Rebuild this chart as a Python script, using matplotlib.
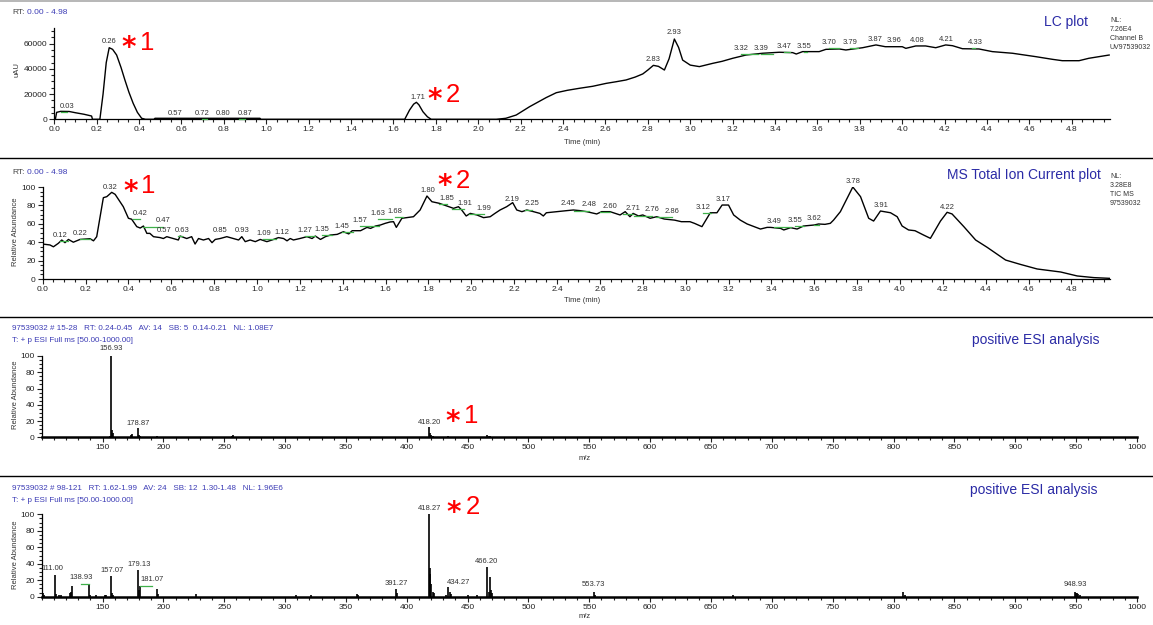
import matplotlib
matplotlib.use("Agg")
import matplotlib.pyplot as plt
from matplotlib.ticker import MultipleLocator, FormatStrFormatter
from matplotlib.lines import Line2D

plt.rcParams['font.family'] = ['Liberation Sans', 'DejaVu Sans']

# ---------------- LC (UV) chromatogram ----------------
lc_time = [0.00, 0.005, 0.011, 0.03, 0.07, 0.10, 0.14, 0.176, 0.18, 0.215, 0.23, 0.245, 0.259, 0.275,
           0.294, 0.315, 0.333, 0.352, 0.372, 0.392, 0.412, 0.43, 0.47, 0.475, 0.97, 0.975, 1.653, 1.676,
           1.695, 1.708, 1.72, 1.739, 1.76, 1.778, 2.085, 2.13, 2.179, 2.242, 2.32, 2.368, 2.42, 2.477,
           2.54, 2.603, 2.65, 2.697, 2.74, 2.776, 2.80, 2.826, 2.85, 2.878, 2.90, 2.925, 2.945, 2.964,
           3.00, 3.043, 3.106, 3.15, 3.20, 3.263, 3.341, 3.42, 3.483, 3.50, 3.53, 3.608, 3.64, 3.703,
           3.734, 3.813, 3.876, 3.92, 4.00, 4.017, 4.064, 4.11, 4.158, 4.205, 4.237, 4.284, 4.362,
           4.425, 4.52, 4.63, 4.708, 4.755, 4.834, 4.88, 4.976]
lc_signal = [0, 0, 5500, 6300, 6200, 5200, 4000, 2600, 0, 0, 20000, 45000, 56800, 55500,
             51000, 41000, 31200, 21500, 12700, 5500, 800, 0, 0, 800, 800, 0, 0, 7400,
             12000, 13500, 11500, 6000, 2000, 0, 0, 800, 3400, 10000, 17200, 21100, 23000, 24600,
             26200, 28500, 29800, 31200, 33500, 36000, 39100, 42800, 42000, 39100, 48000, 63700, 57000, 47000,
             43000, 41800, 44400, 46000, 48400, 51000, 52400, 53200, 52900, 51800, 53700, 53700, 55500, 55800,
             55000, 56800, 59000, 57600, 57600, 56300, 58200, 58200, 56800, 59000, 58400, 56000, 55800,
             53700, 52400, 49700, 47600, 46500, 46500, 48400, 51000]
lc_label_rt = ["0.03", "0.26", "0.57", "0.72", "0.80", "0.87", "1.71", "2.83", "2.93", "3.32", "3.39",
               "3.47", "3.55", "3.70", "3.79", "3.87", "3.96", "4.08", "4.21", "4.33"]
lc_label_time = [0.061, 0.259, 0.572, 0.697, 0.794, 0.899, 1.716, 2.823, 2.925, 3.239, 3.334,
                 3.443, 3.538, 3.656, 3.753, 3.872, 3.962, 4.072, 4.21, 4.344]
lc_label_height = [6000, 57100, 300, 300, 300, 300, 13200, 42900, 64300, 51600, 51600,
                   53200, 53700, 56300, 56300, 59000, 57900, 57900, 59000, 56300]
lc_label_green = [1, 0, 0, 1, 0, 1, 0, 0, 0, 1, 1, 1, 1, 1, 1, 0, 0, 0, 0, 1]

# ---------------- MS TIC chromatogram ----------------
tic_time = [0.00, 0.034, 0.05, 0.073, 0.089, 0.104, 0.12, 0.143, 0.174, 0.221, 0.237, 0.252, 0.283, 0.299,
            0.322, 0.338, 0.376, 0.40, 0.415, 0.439, 0.455, 0.47, 0.486, 0.50, 0.517, 0.548, 0.563, 0.579,
            0.61, 0.633, 0.641, 0.672, 0.695, 0.711, 0.727, 0.75, 0.774, 0.79, 0.805, 0.828, 0.859, 0.89,
            0.914, 0.929, 0.945, 0.968, 0.992, 1.015, 1.046, 1.07, 1.10, 1.124, 1.14, 1.155, 1.17, 1.20,
            1.233, 1.257, 1.272, 1.296, 1.319, 1.343, 1.374, 1.403, 1.428, 1.444, 1.483, 1.513, 1.53,
            1.553, 1.576, 1.598, 1.621, 1.637, 1.65, 1.676, 1.73, 1.761, 1.793, 1.816, 1.85, 1.886, 1.917,
            1.94, 1.955, 1.976, 1.995, 2.026, 2.057, 2.088, 2.11, 2.134, 2.165, 2.193, 2.212, 2.236, 2.259,
            2.29, 2.32, 2.336, 2.35, 2.398, 2.445, 2.476, 2.507, 2.538, 2.585, 2.608, 2.647, 2.694, 2.718,
            2.74, 2.755, 2.78, 2.80, 2.834, 2.865, 2.90, 2.948, 2.98, 3.02, 3.041, 3.076, 3.115, 3.146,
            3.17, 3.20, 3.224, 3.255, 3.287, 3.349, 3.38, 3.396, 3.443, 3.458, 3.49, 3.52, 3.55, 3.60,
            3.62, 3.65, 3.675, 3.69, 3.722, 3.78, 3.816, 3.854, 3.877, 3.909, 3.956, 3.987, 4.01, 4.04,
            4.07, 4.11, 4.142, 4.189, 4.22, 4.243, 4.298, 4.353, 4.407, 4.493, 4.56, 4.64, 4.75, 4.827,
            4.905, 4.98]
tic_abundance = [38, 37, 35, 38.8, 42.4, 39.5, 43, 40, 43, 43.8, 41.5, 46, 88.4, 89.5,
                 94.2, 92, 78.6, 66, 65, 56.9, 55.4, 57.6, 49.6, 49.6, 46, 45, 44, 46,
                 44, 42.4, 46.7, 44, 46, 38, 44, 42.4, 44, 39.5, 43, 44, 46, 44,
                 42.4, 46, 40.6, 42.4, 40.6, 43, 40.6, 42.4, 45, 44, 41.5, 44, 42.4, 44,
                 46, 44, 46.7, 43, 46, 47.8, 48.5, 51.4, 49, 52.5, 52.5, 56.1, 55,
                 57.6, 58.7, 60.5, 62, 62.3, 56.1, 66, 67.7, 75, 90.2, 84, 82.3, 79.3, 76.8,
                 78.6, 75, 68.5, 71.3, 69.6, 66.7, 67.7, 71.3, 75, 78.6, 83, 75, 73.2, 75,
                 73.2, 71.3, 68.5, 72, 73.2, 74.3, 75, 74.3, 73.2, 70.7, 73.2, 73.2, 69.6, 73.2,
                 67.7, 71.3, 68.5, 69.6, 66, 67.7, 65.2, 64, 62.3, 62.3, 60.5, 56.9, 72, 72,
                 80.4, 80.4, 69.6, 64, 59.8, 54.3, 56.1, 56.1, 55, 53.3, 55.8, 54.3, 57.6, 58.7,
                 59.8, 59.4, 60.5, 64, 73.2, 100, 89.5, 66, 63, 73.9, 72, 67.7, 57.6, 53.3,
                 52.5, 47.8, 44.2, 63, 72.5, 70.7, 56.9, 42.4, 34.4, 20.6, 16, 10.9, 7.6, 3.3,
                 1.5, 0.7]
tic_label_rt = ["0.12", "0.22", "0.32", "0.42", "0.47", "0.57", "0.63", "0.85", "0.93", "1.09", "1.12",
                "1.27", "1.35", "1.45", "1.57", "1.63", "1.68", "1.80", "1.85", "1.91", "1.99", "2.19",
                "2.25", "2.45", "2.48", "2.60", "2.71", "2.76", "2.86", "3.12", "3.17", "3.49", "3.55",
                "3.62", "3.78", "3.91", "4.22"]
tic_label_time = [0.081, 0.174, 0.314, 0.454, 0.563, 0.566, 0.649, 0.828, 0.929, 1.03, 1.116,
                  1.225, 1.303, 1.396, 1.481, 1.564, 1.645, 1.796, 1.886, 1.968, 2.057, 2.192,
                  2.283, 2.451, 2.55, 2.649, 2.753, 2.844, 2.937, 3.08, 3.173, 3.414, 3.512,
                  3.601, 3.78, 3.913, 4.22]
tic_label_height = [41, 43, 93, 65, 57, 46.5, 47, 46.5, 46.5, 43.6, 44.6,
                    46.5, 48, 51, 58, 65.4, 67, 90, 81.7, 76.3, 70.8, 80.6,
                    75.5, 75.5, 74.4, 72.6, 70.8, 69, 67.2, 72, 80, 56.3, 58,
                    59.2, 100, 73.7, 72]
tic_label_green = [1, 1, 0, 1, 1, 0, 1, 0, 0, 1, 0,
                   1, 1, 1, 1, 1, 1, 0, 1, 1, 1, 0,
                   1, 0, 1, 1, 1, 1, 1, 1, 0, 1, 1,
                   1, 0, 0, 0]

# ---------------- Mass spectrum 1 (RT 0.24-0.45) ----------------
ms1_mz = [156.0, 156.93, 157.9, 158.9, 173.5, 174.0, 178.87, 179.9, 180.9, 195.0, 256.0, 256.9,
          418.20, 419.2, 420.2, 421.2, 434.0, 466.2, 467.2, 468.2]
ms1_abundance = [1.0, 100, 9, 5, 2.5, 4, 11, 3, 1.5, 1.5, 1.5, 3,
                 12.3, 5, 2.5, 1.5, 1.5, 3, 1.5, 1.2]
ms1_labels = ["156.93", "178.87", "418.20"]
ms1_label_mz = [157.0, 179.4, 419.0]
ms1_label_abundance = [102, 10.4, 11]

# ---------------- Mass spectrum 2 (RT 1.62-1.99) ----------------
ms2_mz = [101.0, 101.9, 111.0, 112.0, 114.0, 116.0, 123.0, 124.0, 124.9, 138.93, 139.9, 145.0,
          152.0, 153.0, 157.07, 158.0, 159.0, 179.13, 180.1, 181.07, 194.9, 196.0, 227.0, 309.0,
          321.0, 359.0, 360.0, 391.27, 392.2, 418.27, 419.0, 419.5, 420.3, 421.3, 422.3, 432.0,
          434.27, 435.3, 436.3, 450.0, 458.0, 466.20, 467.2, 468.2, 469.2, 470.2, 553.73, 554.7,
          668.0, 808.0, 809.0, 948.93, 949.9, 950.9, 951.9, 952.9]
ms2_abundance = [4, 2, 26, 3, 2, 2, 4, 6, 13.5, 15, 2, 2,
                 2, 2, 25, 4, 2, 32.5, 8, 13, 9, 3, 3, 1.5,
                 1.5, 3.5, 2, 9.5, 4, 100, 28, 35, 16, 6, 4, 2,
                 12, 6, 3, 1.5, 1.5, 36.5, 6, 24, 8, 4, 6, 2.5,
                 1.5, 6, 2, 6, 4, 4, 3, 2]
ms2_labels = ["111.00", "138.93", "157.07", "179.13", "181.07", "391.27", "418.27", "434.27",
              "466.20", "553.73", "948.93"]
ms2_label_mz = [109.0, 132.3, 158.0, 180.2, 190.4, 391.7, 419.0, 442.4, 465.7, 553.73, 948.93]
ms2_label_abundance = [27, 16, 25.5, 32.5, 13.5, 9.5, 100, 10, 36.5, 7.5, 7.5]
ms2_label_green = [0, 1, 0, 0, 1, 0, 0, 0, 0, 0, 0]

# ---------------- figure ----------------
W, H = 1153, 625
fig = plt.figure(figsize=(W / 100, H / 100), dpi=100)

BLUE = '#2b2ba6'
HDR = '#3b3bb5'
GREEN = '#3fb04a'
LBL = '#333333'


def px_axes(l, r, b, t):
    return fig.add_axes([l / W, 1 - b / H, (r - l) / W, (b - t) / H])


def ftext(x, y, s, **kw):
    fig.text(x / W, 1 - y / H, s, **kw)


def style(ax, xmaj, xmin, ymaj, ymin):
    for s in ['top', 'right']:
        ax.spines[s].set_visible(False)
    ax.spines['left'].set_linewidth(0.9)
    ax.spines['bottom'].set_linewidth(0.9)
    ax.xaxis.set_major_locator(MultipleLocator(xmaj))
    ax.xaxis.set_minor_locator(MultipleLocator(xmin))
    ax.yaxis.set_major_locator(MultipleLocator(ymaj))
    ax.yaxis.set_minor_locator(MultipleLocator(ymin))
    ax.tick_params(which='major', direction='out', length=3.5, width=0.8, labelsize=6,
                   pad=1.5, colors='#222222')
    ax.tick_params(which='minor', direction='out', length=2.2, width=0.8, colors='#222222')
    ax.patch.set_alpha(0)


def peak_labels(ax, texts, xs, ys, greens, minw):
    for t, x, y, g in zip(texts, xs, ys, greens):
        ax.annotate(t, (x, y), xytext=(0, 1.5), textcoords='offset points', ha='center',
                    va='bottom', fontsize=5.5, color=LBL, annotation_clip=False, zorder=5)
        if g:
            actual = float(t)
            lo, hi = min(x, actual), max(x, actual)
            if hi - lo < minw:
                hi = lo + minw
            ax.plot([lo, hi], [y, y], color=GREEN, lw=0.9, clip_on=False, zorder=4)


def red_mark(ax, x, y, num):
    # (x, y): data position of the left edge of the asterisk / baseline of the digit
    ax.annotate('*', (x, y), xytext=(0, -4.5), textcoords='offset points', fontsize=20,
                family='DejaVu Sans', fontweight='bold', color='red', ha='left',
                va='baseline', annotation_clip=False)
    ax.annotate(num, (x, y), xytext=(13.2, 0), textcoords='offset points', fontsize=18.5,
                family='Liberation Sans', color='red', ha='left', va='baseline',
                annotation_clip=False)


# separators
fig.add_artist(Line2D([0, 1], [1 - 1 / H, 1 - 1 / H], color='#aaaaaa', lw=1.2))
for yy in [158, 317, 476]:
    fig.add_artist(Line2D([0, 1], [1 - yy / H, 1 - yy / H], color='black', lw=1.0))

# ---- Panel 1: LC ----
ax1 = px_axes(54.3, 1110, 119.3, 27.8)
ax1.plot(lc_time, lc_signal, color='black', lw=1.0, zorder=3)
ax1.set_xlim(0, 4.98)
ax1.set_ylim(0, 72600)
style(ax1, 0.2, 0.05, 20000, 5000)
ax1.xaxis.set_major_formatter(FormatStrFormatter('%.1f'))
peak_labels(ax1, lc_label_rt, lc_label_time, lc_label_height, lc_label_green, 0.012)
red_mark(ax1, 0.318, 55000, '1')
red_mark(ax1, 1.76, 13700, '2')
ftext(12, 13, 'RT:', fontsize=6, color='#444444', va='center')
ftext(27, 13, '0.00 - 4.98', fontsize=6, color=HDR, va='center')
ftext(1088, 22, 'LC plot', fontsize=10, color=BLUE, va='center', ha='right')
ftext(1110, 34, 'NL:\n7.26E4\nChannel B\nUV97539032', fontsize=5, color='#333333',
      va='center', ha='left', linespacing=1.35)
ftext(17, 70, 'uAU', fontsize=5.5, rotation=90, va='center', ha='center', color='#333333')
ftext(582, 142, 'Time (min)', fontsize=5.5, va='center', ha='center', color='#333333')

# ---- Panel 2: TIC ----
ax2 = px_axes(42.7, 1110, 279, 187)
ax2.plot(tic_time, tic_abundance, color='black', lw=1.0, zorder=3)
ax2.set_xlim(0, 4.98)
ax2.set_ylim(0, 100)
style(ax2, 0.2, 0.05, 20, 5)
ax2.xaxis.set_major_formatter(FormatStrFormatter('%.1f'))
peak_labels(ax2, tic_label_rt, tic_label_time, tic_label_height, tic_label_green, 0.012)
red_mark(ax2, 0.375, 93.2, '1')
red_mark(ax2, 1.843, 99.0, '2')
ftext(12, 172, 'RT:', fontsize=6, color='#444444', va='center')
ftext(27, 172, '0.00 - 4.98', fontsize=6, color=HDR, va='center')
ftext(1101, 175, 'MS Total Ion Current plot', fontsize=10, color=BLUE, va='center', ha='right')
ftext(1110, 190, 'NL:\n3.28E8\nTIC MS\n97539032', fontsize=5, color='#333333',
      va='center', ha='left', linespacing=1.35)
ftext(16, 232, 'Relative Abundance', fontsize=5.5, rotation=90, va='center', ha='center',
      color='#333333')
ftext(582, 301, 'Time (min)', fontsize=5.5, va='center', ha='center', color='#333333')

# ---- Panel 3: MS spectrum 1 ----
ax3 = px_axes(41.65, 1137, 437.3, 356)
ax3.vlines(ms1_mz, 0, ms1_abundance, color='black', lw=1.2)
ax3.set_xlim(100, 1000)
ax3.set_ylim(0, 100)
style(ax3, 50, 10, 20, 5)
ax3.spines['bottom'].set_linewidth(1.8)
ax3.set_xticks([t for t in range(150, 1001, 50)])
peak_labels(ax3, ms1_labels, ms1_label_mz, ms1_label_abundance, [0, 0, 0], 3)
red_mark(ax3, 432.0, 17.2, '1')
ftext(12, 329, '97539032 # 15-28   RT: 0.24-0.45   AV: 14   SB: 5  0.14-0.21   NL: 1.08E7',
      fontsize=5.8, color=HDR, va='center')
ftext(12, 341, 'T: + p ESI Full ms [50.00-1000.00]', fontsize=5.8, color=HDR, va='center')
ftext(1100, 340, 'positive ESI analysis', fontsize=10, color=BLUE, va='center', ha='right')
ftext(16, 395, 'Relative Abundance', fontsize=5.5, rotation=90, va='center', ha='center',
      color='#333333')
ftext(585, 459, 'm/z', fontsize=5.5, va='center', ha='center', color='#333333')

# ---- Panel 4: MS spectrum 2 ----
ax4 = px_axes(41.65, 1137, 596.7, 514.3)
ax4.vlines(ms2_mz, 0, ms2_abundance, color='black', lw=1.2)
ax4.set_xlim(100, 1000)
ax4.set_ylim(0, 100)
style(ax4, 50, 10, 20, 5)
ax4.spines['bottom'].set_linewidth(1.8)
ax4.set_xticks([t for t in range(150, 1001, 50)])
peak_labels(ax4, ms2_labels, ms2_label_mz, ms2_label_abundance, ms2_label_green, 3)
red_mark(ax4, 433.0, 100, '2')
ftext(12, 489, '97539032 # 98-121   RT: 1.62-1.99   AV: 24   SB: 12  1.30-1.48   NL: 1.96E6',
      fontsize=5.8, color=HDR, va='center')
ftext(12, 500, 'T: + p ESI Full ms [50.00-1000.00]', fontsize=5.8, color=HDR, va='center')
ftext(1097, 490, 'positive ESI analysis', fontsize=10, color=BLUE, va='center', ha='right')
ftext(16, 555, 'Relative Abundance', fontsize=5.5, rotation=90, va='center', ha='center',
      color='#333333')
ftext(585, 617, 'm/z', fontsize=5.5, va='center', ha='center', color='#333333')

fig.savefig('out.png', dpi=100)
